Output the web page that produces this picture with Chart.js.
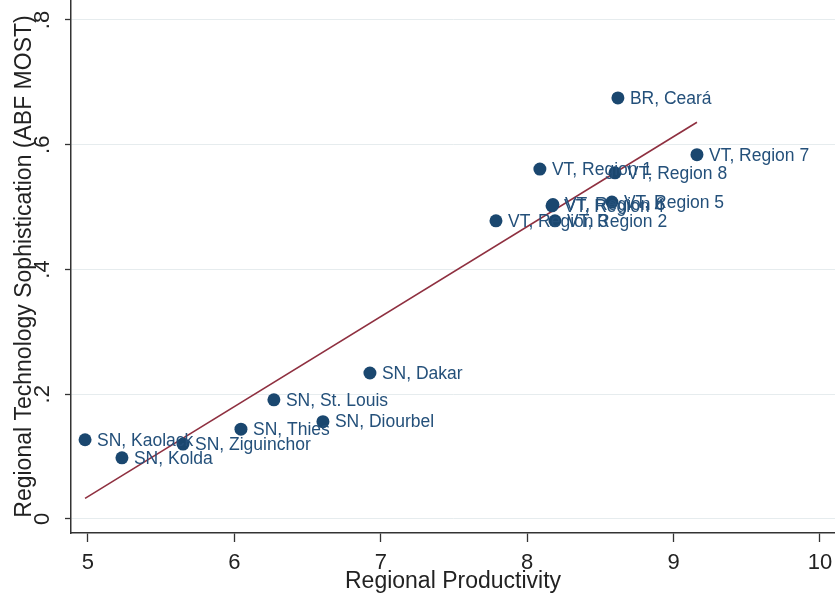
<!DOCTYPE html>
<html>
<head>
<meta charset="utf-8">
<script src="https://cdn.jsdelivr.net/npm/chart.js@4.4.1/dist/chart.umd.min.js"></script>
<style>
  body { margin: 0; background: #fff; }
  #wrap { width: 835px; height: 599px; }
</style>
</head>
<body>
<div id="wrap"><canvas id="scatterChart" width="835" height="599"></canvas></div>
<script>
// regions, productivity (x) and technology sophistication (y)
var regions = ["BR, Ceará", "VT, Region 7", "VT, Region 1", "VT, Region 8", "VT, Region 5",
  "VT, Region 4", "VT, Region 6", "VT, Region 3", "VT, Region 2",
  "SN, Dakar", "SN, St. Louis", "SN, Diourbel", "SN, Thies", "SN, Ziguinchor",
  "SN, Kaolack", "SN, Kolda"];
var productivity = [8.62, 9.16, 8.087, 8.60, 8.579, 8.17, 8.176, 7.787, 8.19,
  6.926, 6.27, 6.605, 6.045, 5.649, 4.98, 5.232];
var sophistication = [0.675, 0.584, 0.561, 0.555, 0.508, 0.502, 0.504, 0.478, 0.478,
  0.234, 0.191, 0.156, 0.144, 0.120, 0.127, 0.098];

// linear fit end points
var fitX = [4.98, 9.16];
var fitY = [0.033, 0.636];

var xTicks = [5, 6, 7, 8, 9, 10];
var yTicks = [0, 0.2, 0.4, 0.6, 0.8];
var yTickLabels = ["0", ".2", ".4", ".6", ".8"];

var navy = '#1a476f';
var font = '"Liberation Sans", Arial, sans-serif';

var points = productivity.map(function (x, i) { return {x: x, y: sophistication[i]}; });
var fitLine = fitX.map(function (x, i) { return {x: x, y: fitY[i]}; });

// marker labels + rotated y tick labels
var labelPlugin = {
  id: 'labels',
  afterDatasetsDraw: function (chart) {
    var ctx = chart.ctx;
    var meta = chart.getDatasetMeta(0);
    ctx.save();
    ctx.font = '17.5px ' + font;
    ctx.fillStyle = '#24507a';
    ctx.textAlign = 'left';
    ctx.textBaseline = 'middle';
    meta.data.forEach(function (pt, i) {
      ctx.fillText(regions[i], pt.x + 12, pt.y + 1);
    });
    ctx.restore();
  },
  afterDraw: function (chart) {
    var ctx = chart.ctx;
    var ys = chart.scales.y;
    ctx.save();
    ctx.font = '22px ' + font;
    ctx.fillStyle = '#222';
    ctx.textAlign = 'center';
    ctx.textBaseline = 'alphabetic';
    yTicks.forEach(function (v, i) {
      var py = ys.getPixelForValue(v);
      ctx.save();
      ctx.translate(49, py);
      ctx.rotate(-Math.PI / 2);
      ctx.fillText(yTickLabels[i], 0, 0);
      ctx.restore();
    });
    ctx.restore();
  }
};

var ctxS = document.getElementById("scatterChart").getContext('2d');
var myScatter = new Chart(ctxS, {
  type: 'scatter',
  data: {
    datasets: [{
      label: "Regions",
      data: points,
      backgroundColor: navy,
      borderColor: navy,
      pointRadius: 6.5,
      pointBorderWidth: 0,
      order: 1
    },
    {
      type: 'line',
      label: "Fitted values",
      data: fitLine,
      borderColor: '#8f3040',
      borderWidth: 1.6,
      pointRadius: 0,
      fill: false,
      order: 2
    }]
  },
  plugins: [labelPlugin],
  options: {
    responsive: false,
    animation: false,
    devicePixelRatio: 1,
    layout: { padding: 0, autoPadding: false },
    plugins: {
      legend: { display: false },
      tooltip: { enabled: false }
    },
    scales: {
      x: {
        type: 'linear',
        min: 4.884,
        max: 10.103,
        afterBuildTicks: function (s) { s.ticks = xTicks.map(function (v) { return {value: v}; }); },
        afterFit: function (s) { s.height = 66; s.paddingLeft = 0; s.paddingRight = 0; },
        grid: { drawOnChartArea: false, tickLength: 9, tickColor: '#333', tickWidth: 1.3 },
        border: { color: '#333', width: 1.5 },
        ticks: {
          color: '#222',
          font: { family: font, size: 22 },
          padding: 8,
          maxRotation: 0,
          callback: function (v) { return String(v); }
        },
        title: {
          display: true,
          text: 'Regional Productivity',
          color: '#222',
          font: { family: font, size: 23 },
          padding: { top: 0, bottom: 4 }
        }
      },
      y: {
        type: 'linear',
        min: -0.0225,
        max: 0.832,
        afterBuildTicks: function (s) { s.ticks = yTicks.map(function (v) { return {value: v}; }); },
        afterFit: function (s) { s.width = 71; s.paddingTop = 0; s.paddingBottom = 0; },
        grid: { color: '#e6ecee', lineWidth: 1, tickLength: 6, tickColor: '#333', tickWidth: 1.3 },
        border: { color: '#333', width: 1.5 },
        ticks: { display: false },
        title: {
          display: true,
          text: 'Regional Technology Sophistication (ABF MOST)',
          color: '#222',
          font: { family: font, size: 23 },
          padding: { top: 11, bottom: 0 }
        }
      }
    }
  }
});
</script>
</body>
</html>
